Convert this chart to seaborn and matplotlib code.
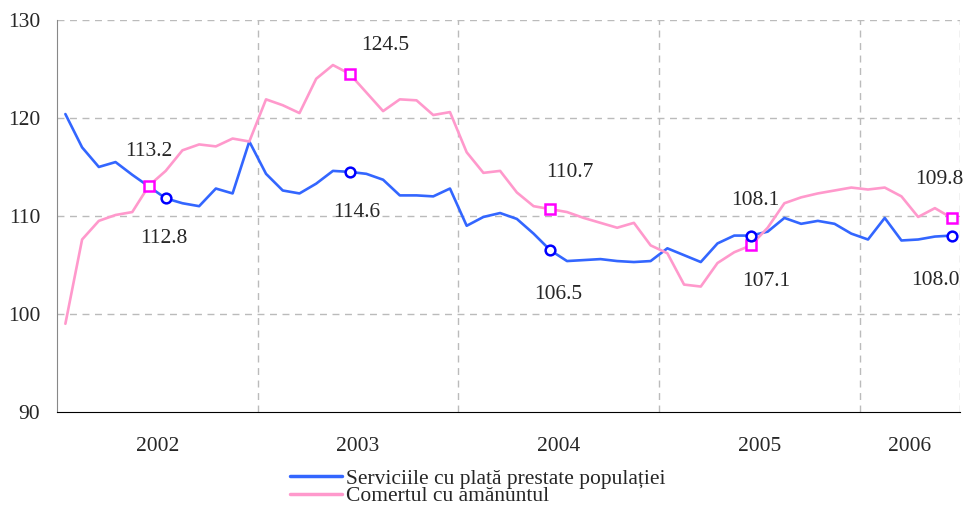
import numpy as np
import pandas as pd
import matplotlib.pyplot as plt
import seaborn as sns
from matplotlib.lines import Line2D

# monthly indices, Jan 2002 - Jun 2006
servicii = [120.4, 117.0, 115.0, 115.5, 114.2, 113.0, 111.8, 111.3, 111.0, 112.8, 112.3, 117.6,
            114.3, 112.6, 112.3, 113.3, 114.6, 114.5, 114.3, 113.7, 112.1, 112.1, 112.0, 112.8,
            109.0, 109.9, 110.3, 109.7, 108.2, 106.5, 105.4, 105.5, 105.6, 105.4, 105.3, 105.4,
            106.7, 106.0, 105.3, 107.2, 108.0, 108.0, 108.4, 109.8, 109.2, 109.5, 109.2, 108.2,
            107.6, 109.8, 107.5, 107.6, 107.9, 108.0]
comert = [99.0, 107.6, 109.5, 110.1, 110.4, 113.1, 114.6, 116.7, 117.3, 117.1, 117.9, 117.6,
          121.9, 121.3, 120.5, 124.0, 125.4, 124.5, 122.6, 120.7, 121.9, 121.8, 120.3, 120.6,
          116.5, 114.4, 114.6, 112.4, 111.0, 110.7, 110.4, 109.8, 109.3, 108.8, 109.3, 107.0,
          106.2, 103.0, 102.8, 105.2, 106.3, 107.0, 108.8, 111.3, 111.9, 112.3, 112.6, 112.9,
          112.7, 112.9, 112.0, 109.9, 110.8, 109.8]

years = ['2002', '2003', '2004', '2005', '2006']
year_pos = [6, 18, 30, 42, 51]

serv_idx = [6, 17, 29, 41, 53]
serv_lbl = ['112.8', '114.6', '106.5', '108.1', '108.0']
com_idx = [5, 17, 29, 41, 53]
com_lbl = ['113.2', '124.5', '110.7', '107.1', '109.8']

# label offsets in pixels (x, y up)
serv_off = [(-2, -40), (7, -41), (8, -44), (4, 35), (-16, -45)]
com_off = [(0, 34), (36, 28), (20, 37), (15, -36), (-12, 38)]

name1 = 'Serviciile cu plată prestate populației'
name2 = 'Comertul cu amănuntul'
months = np.arange(len(servicii)) + 0.5
df = pd.DataFrame({'luna': np.concatenate([months, months]),
                   'indice': servicii + comert,
                   'serie': [name1] * len(servicii) + [name2] * len(comert)})

sns.set_style("white")
plt.rcParams['font.family'] = ['Liberation Serif', 'DejaVu Serif']
fs = 15.5

fig = plt.figure(figsize=(9.68, 5.08), dpi=100)
ax = fig.add_axes([0.0589, 0.189, 0.9328, 0.7717])

blue = '#3366FF'
pink = '#FF99CC'
sns.lineplot(data=df, x='luna', y='indice', hue='serie', palette=[blue, pink],
             linewidth=1.9, ax=ax, legend=False)

ax.plot(months[com_idx], np.array(comert)[com_idx], 's', ms=7, mfc='white',
        mec='#FF00FF', mew=1.8, zorder=5)
ax.plot(months[serv_idx], np.array(servicii)[serv_idx], 'o', ms=7, mfc='white',
        mec='#0000FF', mew=1.8, zorder=5)

for i, t, off in zip(serv_idx, serv_lbl, serv_off):
    ax.annotate(t, (months[i], servicii[i]), xytext=off, textcoords='offset pixels',
                ha='center', va='center', fontsize=fs)
for i, t, off in zip(com_idx, com_lbl, com_off):
    ax.annotate(t, (months[i], comert[i]), xytext=off, textcoords='offset pixels',
                ha='center', va='center', fontsize=fs)

ax.set_xlim(0, 54)
ax.set_ylim(90, 130)
ax.set_yticks([90, 100, 110, 120, 130])
ax.tick_params(axis='y', length=0, pad=12, labelsize=fs)

ax.set_xticks([0, 12, 24, 36, 48, 54])
ax.set_xticklabels([])
ax.set_xticks(year_pos, minor=True)
ax.set_xticklabels(years, minor=True)
ax.tick_params(axis='x', which='major', direction='out', length=7, width=1, color='black')
ax.tick_params(axis='x', which='minor', direction='inout', length=10, width=1,
               color='black', labelsize=fs, pad=13)
ax.xaxis.get_minor_ticks()[4].tick1line.set_visible(False)
ax.xaxis.get_minor_ticks()[4].tick2line.set_visible(False)

for y in [100, 110, 120, 130]:
    ax.axhline(y, color='#BBBBBB', lw=1, ls=(0, (5, 4)), zorder=0)
for x in [12, 24, 36, 48, 54]:
    ax.axvline(x, color='#BBBBBB', lw=1, ls=(0, (5, 4)), zorder=0)

ax.set_xlabel('')
ax.set_ylabel('')
for s in ['top', 'right']:
    ax.spines[s].set_visible(False)
ax.spines['left'].set_color('#888888')
ax.spines['bottom'].set_color('black')

handles = [Line2D([], [], color=blue, lw=2.5), Line2D([], [], color=pink, lw=2.5)]
fig.legend(handles, [name1, name2], loc='upper left', bbox_to_anchor=(0.300, 0.077),
           frameon=False, fontsize=fs, handlelength=2.4, handletextpad=0.2,
           labelspacing=-0.12, borderpad=0, borderaxespad=0)

fig.savefig('out.png', dpi=100)
